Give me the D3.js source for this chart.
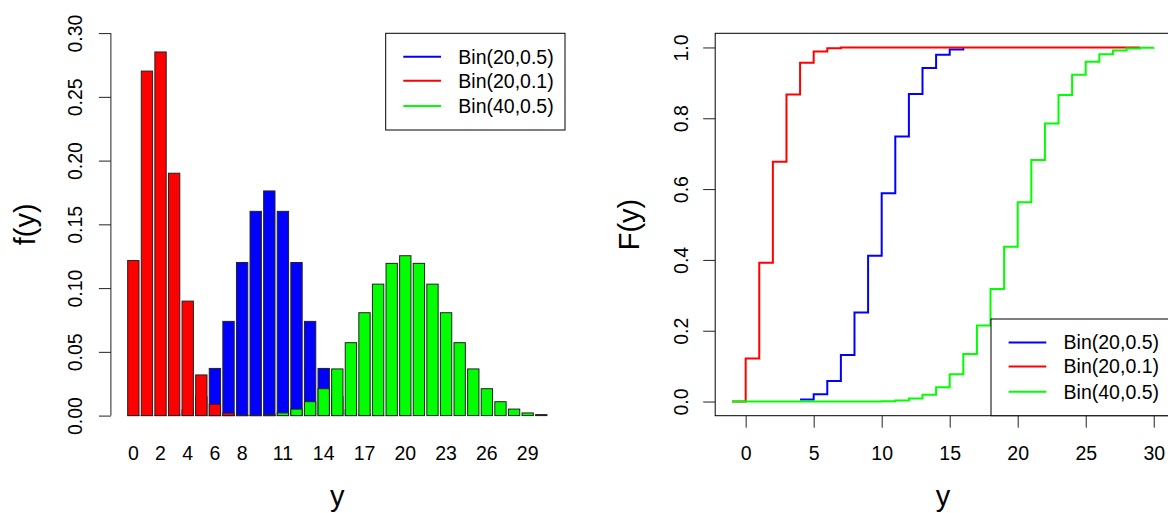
<!DOCTYPE html>
<html>
<head>
<meta charset="utf-8">
<script src="https://cdn.jsdelivr.net/npm/d3@7"></script>
<style>
  html, body { margin: 0; padding: 0; background: #fff; }
  svg { display: block; font-family: "Liberation Sans", Arial, sans-serif; }
</style>
</head>
<body>
<svg id="chart" width="1168" height="513"></svg>
<script>
// ---- data ----------------------------------------------------------------
// probability mass f(y) for y = 0..30
const yValues = d3.range(0, 31);
const pmfBin20_05 = [0.000001, 0.00002, 0.0002, 0.0011, 0.0046, 0.0148, 0.0370, 0.0739, 0.1201, 0.1602,
  0.1762, 0.1602, 0.1201, 0.0739, 0.0370, 0.0148, 0.0046, 0.0011, 0.0002, 0.00002, 0.000001,
  0, 0, 0, 0, 0, 0, 0, 0, 0, 0];
const pmfBin20_01 = [0.1216, 0.2702, 0.2852, 0.1901, 0.0898, 0.0319, 0.0089, 0.0020, 0.0004, 0.00005,
  0.000006, 0, 0, 0, 0, 0, 0, 0, 0, 0, 0, 0, 0, 0, 0, 0, 0, 0, 0, 0, 0];
const pmfBin40_05 = [0, 0, 0, 0, 0, 0, 0.000003, 0.00002, 0.00007, 0.0002,
  0.0008, 0.0021, 0.0051, 0.0109, 0.0211, 0.0366, 0.0572, 0.0807, 0.1031, 0.1194,
  0.1254, 0.1194, 0.1031, 0.0807, 0.0572, 0.0366, 0.0211, 0.0109, 0.0051, 0.0021, 0.0008];
const barLabels = ["0", "2", "4", "6", "8", "11", "14", "17", "20", "23", "26", "29"];
const barLabelAt = [0, 2, 4, 6, 8, 11, 14, 17, 20, 23, 26, 29];
const pmfTicks = [0, 0.05, 0.10, 0.15, 0.20, 0.25, 0.30];

// cumulative distribution F(y), drawn as step functions
const cdfX_20_05 = d3.range(4, 17);
const cdfBin20_05 = [0.0059, 0.0207, 0.0577, 0.1316, 0.2517, 0.4119, 0.5881, 0.7483, 0.8684, 0.9423,
  0.9793, 0.9941, 0.9987];
const cdfX_20_01 = d3.range(-1, 30);
const cdfBin20_01 = [0, 0.1216, 0.3917, 0.6769, 0.8670, 0.9568, 0.9887, 0.9976, 0.9996, 0.9999,
  1, 1, 1, 1, 1, 1, 1, 1, 1, 1, 1, 1, 1, 1, 1, 1, 1, 1, 1, 1, 1];
const cdfX_40_05 = d3.range(-1, 31);
const cdfBin40_05 = [0, 0, 0, 0, 0, 0, 0, 0, 0, 0.0001, 0.0003,
  0.0011, 0.0032, 0.0083, 0.0192, 0.0403, 0.0769, 0.1341, 0.2148, 0.3179, 0.4373,
  0.5627, 0.6821, 0.7852, 0.8659, 0.9231, 0.9597, 0.9808, 0.9917, 0.9968, 0.9989, 0.9997];
const cdfXTicks = [0, 5, 10, 15, 20, 25, 30];
const cdfYTicks = [0, 0.2, 0.4, 0.6, 0.8, 1.0];

const seriesNames = ["Bin(20,0.5)", "Bin(20,0.1)", "Bin(40,0.5)"];
const seriesColors = ["#0000ff", "#ff0000", "#00ff00"];

// ---- setup ---------------------------------------------------------------
const svg = d3.select("#chart");
const INK = "#222";
const tickFont = 19.5;
const titleFont = 29;

// ---- left panel: bar chart of f(y) ---------------------------------------
// bar k spans [0.2 + 1.2k, 1.2 + 1.2k] in user units
const xL = d3.scaleLinear().domain([-1.28, 38.68]).range([110.9, 563.7]);
const yL = d3.scaleLinear().domain([-0.012, 0.312]).range([430.9, 17.8]);

const left = svg.append("g");
const barSets = [pmfBin20_05, pmfBin20_01, pmfBin40_05];
barSets.forEach((vals, s) => {
  left.append("g").selectAll("rect")
    .data(yValues)
    .join("rect")
    .attr("x", k => xL(0.2 + 1.2 * k))
    .attr("width", k => xL(1.2 + 1.2 * k) - xL(0.2 + 1.2 * k))
    .attr("y", k => yL(vals[k]))
    .attr("height", k => Math.max(0, yL(0) - yL(vals[k])))
    .attr("fill", seriesColors[s])
    .attr("stroke", INK)
    .attr("stroke-width", 1);
});

// y axis (line spans only the tick range)
const yAxisL = left.append("g")
  .attr("transform", `translate(${xL.range()[0]},0)`)
  .call(d3.axisLeft(yL).tickValues(pmfTicks).tickSize(12).tickFormat(d3.format(".2f")));
yAxisL.select(".domain").remove();
yAxisL.selectAll(".tick line").attr("stroke", INK);
yAxisL.append("line")
  .attr("y1", yL(0)).attr("y2", yL(0.30))
  .attr("stroke", INK);
yAxisL.selectAll(".tick text")
  .attr("x", null).attr("dy", null)
  .attr("y", -29.2)
  .attr("transform", "rotate(-90)")
  .attr("text-anchor", "middle")
  .attr("fill", "#000")
  .style("font-size", tickFont + "px")
  .style("font-family", "Liberation Sans, Arial, sans-serif");

// bar names
left.append("g").selectAll("text")
  .data(barLabels)
  .join("text")
  .attr("x", (d, i) => xL(0.7 + 1.2 * barLabelAt[i]))
  .attr("y", 460)
  .attr("text-anchor", "middle")
  .style("font-size", tickFont + "px")
  .text(d => d);

// axis titles
left.append("text")
  .attr("transform", `translate(35,${(yL.range()[0] + yL.range()[1]) / 2}) rotate(-90)`)
  .attr("text-anchor", "middle")
  .style("font-size", titleFont + "px")
  .text("f(y)");
left.append("text")
  .attr("x", (xL.range()[0] + xL.range()[1]) / 2)
  .attr("y", 505.5)
  .attr("text-anchor", "middle")
  .style("font-size", titleFont + "px")
  .text("y");

// legend
function legend(g, x0, y0, x1, y1) {
  g.append("rect")
    .attr("x", x0).attr("y", y0)
    .attr("width", x1 - x0).attr("height", y1 - y0)
    .attr("fill", "#fff").attr("stroke", "#000").attr("stroke-width", 1);
  const rowY = [23.4, 47.4, 72.7];
  seriesNames.forEach((name, i) => {
    g.append("line")
      .attr("x1", x0 + 17.6).attr("x2", x0 + 55.3)
      .attr("y1", y0 + rowY[i]).attr("y2", y0 + rowY[i])
      .attr("stroke", seriesColors[i]).attr("stroke-width", 2);
    g.append("text")
      .attr("x", x0 + 72.6).attr("y", y0 + rowY[i] + 6.9)
      .style("font-size", tickFont + "px")
      .text(name);
  });
}
legend(left, 385.7, 33.3, 565, 130);

// ---- right panel: step functions of F(y) ----------------------------------
const xR = d3.scaleLinear().domain([-2.24, 31.24]).range([715.2, 1170.6]);
const yR = d3.scaleLinear().domain([-0.04, 1.04]).range([415.7, 33.3]);

const right = svg.append("g");

const step = (xs) => d3.line()
  .x((d, i) => xR(xs[i]))
  .y(d => yR(d))
  .curve(d3.curveStepAfter);

const cdfSets = [
  [cdfX_20_05, cdfBin20_05, 0],
  [cdfX_20_01, cdfBin20_01, 1],
  [cdfX_40_05, cdfBin40_05, 2]
];
// draw order: blue, red, green
cdfSets.forEach(([xs, ys, c]) => {
  right.append("path")
    .attr("d", step(xs)(ys))
    .attr("fill", "none")
    .attr("stroke", seriesColors[c])
    .attr("stroke-width", 2);
});

// plot frame
right.append("rect")
  .attr("x", xR.range()[0]).attr("y", yR.range()[1])
  .attr("width", xR.range()[1] - xR.range()[0])
  .attr("height", yR.range()[0] - yR.range()[1])
  .attr("fill", "none").attr("stroke", "#000").attr("stroke-width", 1);

const yAxisR = right.append("g")
  .attr("transform", `translate(${xR.range()[0]},0)`)
  .call(d3.axisLeft(yR).tickValues(cdfYTicks).tickSize(12).tickFormat(d3.format(".1f")));
yAxisR.select(".domain").remove();
yAxisR.selectAll(".tick line").attr("stroke", INK);
yAxisR.selectAll(".tick text")
  .attr("x", null).attr("dy", null)
  .attr("y", -27.6)
  .attr("transform", "rotate(-90)")
  .attr("text-anchor", "middle")
  .attr("fill", "#000")
  .style("font-size", tickFont + "px")
  .style("font-family", "Liberation Sans, Arial, sans-serif");

const xAxisR = right.append("g")
  .attr("transform", `translate(0,${yR.range()[0]})`)
  .call(d3.axisBottom(xR).tickValues(cdfXTicks).tickSize(12).tickFormat(d3.format("d")));
xAxisR.select(".domain").remove();
xAxisR.selectAll(".tick line").attr("stroke", INK);
xAxisR.selectAll(".tick text")
  .attr("dy", null)
  .attr("y", 44.5)
  .attr("fill", "#000")
  .style("font-size", tickFont + "px")
  .style("font-family", "Liberation Sans, Arial, sans-serif");

right.append("text")
  .attr("transform", `translate(639,${(yR.range()[0] + yR.range()[1]) / 2}) rotate(-90)`)
  .attr("text-anchor", "middle")
  .style("font-size", titleFont + "px")
  .text("F(y)");
right.append("text")
  .attr("x", (xR.range()[0] + xR.range()[1]) / 2)
  .attr("y", 505.5)
  .attr("text-anchor", "middle")
  .style("font-size", titleFont + "px")
  .text("y");

legend(right, 991, 319, 1170.6, 415.7);
</script>
</body>
</html>
